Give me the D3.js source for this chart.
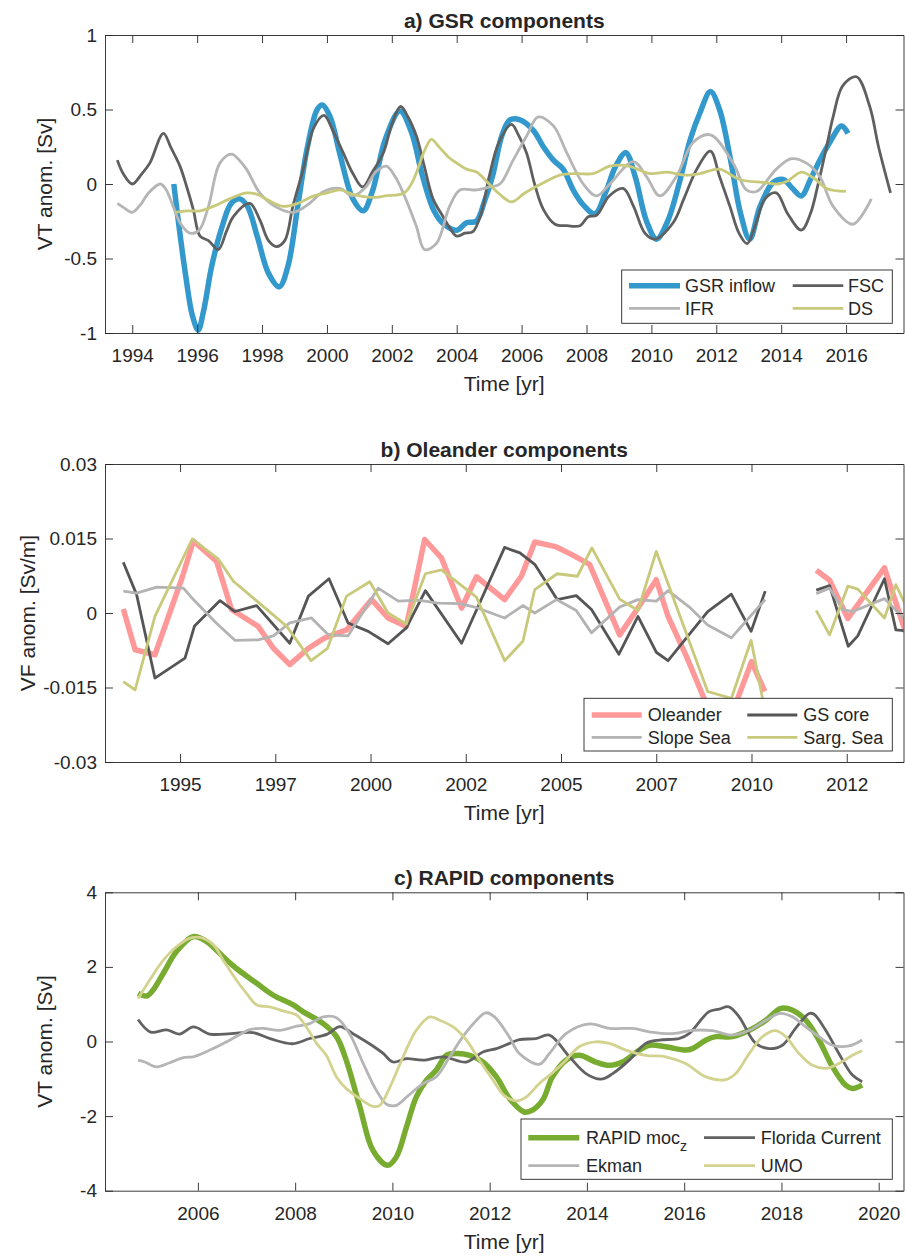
<!DOCTYPE html>
<html><head><meta charset="utf-8">
<script src="https://cdn.jsdelivr.net/npm/d3@7"></script>
<style>
body{margin:0;background:#fff;}
svg{display:block;}
text{font-family:"Liberation Sans",Arial,Helvetica,sans-serif;fill:#262626;}
</style></head><body>
<svg id="chart" width="905" height="1256"></svg>
<script>
// ---------------- Panel a: GSR components ----------------
const ticksA = [1994,1996,1998,2000,2002,2004,2006,2008,2010,2012,2014,2016];
const yTicksA = [-1,-0.5,0,0.5,1];
const yTickLabelsA = ["-1","-0.5","0","0.5","1"];
const gsrInflow = [[1995.28,0.00],[1995.45,-0.30],[1995.65,-0.62],[1995.85,-0.88],[1996.03,-0.98],[1996.2,-0.85],[1996.45,-0.55],[1996.75,-0.30],[1997.05,-0.13],[1997.31,-0.10],[1997.55,-0.15],[1997.85,-0.35],[1998.2,-0.60],[1998.53,-0.69],[1998.8,-0.55],[1999.1,-0.15],[1999.4,0.25],[1999.7,0.50],[1999.86,0.53],[2000.1,0.45],[2000.4,0.20],[2000.8,-0.10],[2001.12,-0.18],[2001.4,-0.05],[2001.8,0.30],[2002.25,0.49],[2002.6,0.35],[2002.95,0.05],[2003.3,-0.18],[2003.6,-0.27],[2004.0,-0.31],[2004.3,-0.26],[2004.6,-0.25],[2004.85,-0.12],[2005.1,0.05],[2005.4,0.33],[2005.64,0.43],[2005.95,0.43],[2006.36,0.36],[2006.67,0.25],[2006.98,0.16],[2007.28,0.10],[2007.59,-0.04],[2007.9,-0.14],[2008.26,-0.20],[2008.6,-0.05],[2008.9,0.12],[2009.21,0.21],[2009.5,0.05],[2009.85,-0.25],[2010.16,-0.37],[2010.5,-0.25],[2010.85,0.00],[2011.2,0.30],[2011.5,0.48],[2011.82,0.62],[2012.1,0.50],[2012.45,0.15],[2012.75,-0.20],[2013.03,-0.37],[2013.35,-0.15],[2013.75,0.01],[2014.06,0.03],[2014.35,-0.03],[2014.62,-0.08],[2014.9,0.03],[2015.19,0.16],[2015.5,0.28],[2015.86,0.39],[2016.06,0.34]];
const fsc = [[1993.54,0.16],[1993.72,0.07],[1994.0,0.00],[1994.3,0.07],[1994.54,0.14],[1994.96,0.34],[1995.2,0.24],[1995.47,0.12],[1995.68,-0.02],[1995.88,-0.17],[1996.09,-0.35],[1996.35,-0.38],[1996.65,-0.44],[1996.9,-0.32],[1997.11,-0.22],[1997.62,-0.13],[1997.93,-0.24],[1998.2,-0.38],[1998.44,-0.42],[1998.7,-0.38],[1998.95,-0.15],[1999.27,0.10],[1999.6,0.38],[1999.91,0.46],[2000.2,0.35],[2000.5,0.21],[2000.8,0.07],[2001.1,-0.02],[2001.4,0.08],[2001.74,0.21],[2002.0,0.40],[2002.27,0.52],[2002.5,0.45],[2002.76,0.32],[2003.0,0.12],[2003.27,-0.10],[2003.58,-0.22],[2003.8,-0.30],[2004.0,-0.35],[2004.25,-0.33],[2004.5,-0.32],[2004.75,-0.20],[2005.0,0.05],[2005.3,0.28],[2005.69,0.40],[2005.9,0.33],[2006.15,0.21],[2006.4,0.00],[2006.67,-0.17],[2007.03,-0.27],[2007.4,-0.28],[2007.8,-0.28],[2008.05,-0.22],[2008.31,-0.21],[2008.7,-0.08],[2009.13,-0.03],[2009.45,-0.15],[2009.8,-0.33],[2010.1,-0.37],[2010.67,-0.26],[2011.0,-0.10],[2011.4,0.10],[2011.82,0.22],[2012.1,0.05],[2012.42,-0.15],[2012.7,-0.33],[2012.95,-0.40],[2013.2,-0.28],[2013.5,-0.10],[2013.85,-0.06],[2014.2,-0.20],[2014.62,-0.31],[2014.9,-0.20],[2015.15,0.01],[2015.4,0.25],[2015.6,0.45],[2015.9,0.66],[2016.32,0.72],[2016.73,0.52],[2017.0,0.25],[2017.37,-0.06]];
const ifr = [[1993.54,-0.13],[1993.75,-0.16],[1994.0,-0.19],[1994.25,-0.14],[1994.5,-0.06],[1994.87,0.00],[1995.05,-0.04],[1995.26,-0.15],[1995.5,-0.27],[1995.78,-0.33],[1996.06,-0.31],[1996.35,-0.15],[1996.7,0.14],[1997.06,0.20],[1997.3,0.16],[1997.52,0.10],[1997.93,-0.06],[1998.4,-0.15],[1998.96,-0.19],[1999.4,-0.14],[1999.9,-0.05],[2000.4,-0.03],[2000.8,-0.08],[2001.2,-0.02],[2001.5,0.08],[2001.83,0.12],[2002.1,0.05],[2002.35,-0.06],[2002.75,-0.28],[2003.01,-0.44],[2003.37,-0.40],[2003.78,-0.15],[2004.1,-0.04],[2004.61,-0.04],[2005.02,-0.02],[2005.33,0.00],[2005.74,0.16],[2006.15,0.32],[2006.51,0.45],[2006.98,0.39],[2007.39,0.21],[2007.9,0.00],[2008.31,-0.08],[2008.72,0.00],[2009.44,0.15],[2009.85,0.05],[2010.26,-0.08],[2010.77,0.05],[2011.29,0.28],[2011.82,0.33],[2012.52,0.14],[2012.93,-0.04],[2013.24,-0.05],[2013.85,0.10],[2014.32,0.17],[2014.78,0.14],[2015.19,0.05],[2015.6,-0.15],[2016.21,-0.27],[2016.78,-0.10]];
const ds = [[1995.32,-0.19],[1995.7,-0.18],[1996.09,-0.18],[1996.5,-0.15],[1997.0,-0.10],[1997.52,-0.06],[1997.85,-0.07],[1998.2,-0.11],[1998.65,-0.15],[1999.1,-0.13],[1999.6,-0.08],[2000.0,-0.06],[2000.4,-0.04],[2000.81,-0.07],[2001.4,-0.09],[2001.8,-0.08],[2002.38,-0.06],[2002.6,0.00],[2002.8,0.10],[2003.0,0.22],[2003.22,0.30],[2003.45,0.25],[2003.75,0.18],[2004.0,0.14],[2004.3,0.10],[2004.61,0.08],[2005.0,0.00],[2005.33,-0.07],[2005.69,-0.12],[2006.1,-0.06],[2006.6,0.00],[2007.18,0.06],[2007.7,0.07],[2008.21,0.07],[2008.72,0.12],[2009.3,0.12],[2009.95,0.07],[2010.5,0.08],[2011.0,0.06],[2011.5,0.07],[2012.1,0.10],[2012.72,0.03],[2013.45,0.01],[2013.9,0.00],[2014.2,0.02],[2014.62,0.08],[2015.0,0.04],[2015.4,-0.03],[2016.0,-0.05]];

// ---------------- Panel b: Oleander components ----------------
const ticksB = [1995,1997.5,2000,2002.5,2005,2007.5,2010,2012.5];
const tickLabelsB = ["1995","1997","2000","2002","2005","2007","2010","2012"];
const yTicksB = [-0.03,-0.015,0,0.015,0.03];
const yTickLabelsB = ["-0.03","-0.015","0","0.015","0.03"];
const oleander = [[1993.51,0.0008],[1993.82,-0.0074],[1994.34,-0.0084],[1995.05,0.0070],[1995.35,0.0145],[1995.96,0.0104],[1996.35,0.0007],[1997.05,-0.0027],[1997.45,-0.0071],[1997.88,-0.0104],[1998.37,-0.0071],[1998.80,-0.0050],[1999.37,-0.0034],[2000.03,0.0027],[2000.46,-0.0010],[2000.94,-0.0027],[2001.42,0.0148],[2001.86,0.0111],[2002.39,0.0010],[2002.78,0.0073],[2003.52,0.0027],[2003.96,0.0074],[2004.31,0.0143],[2004.88,0.0133],[2005.27,0.0118],[2005.75,0.0098],[2006.54,-0.0044],[2007.02,0.0010],[2007.50,0.0067],[2007.81,-0.0007],[2008.33,-0.0094],[2008.77,-0.0175],[2009.1,-0.0215],[2009.55,-0.0190],[2010.0,-0.0098],[2010.35,-0.0158],[2011.0,null],[2011.70,0.0086],[2012.05,0.0066],[2012.53,-0.0011],[2013.49,0.0091],[2014.05,-0.0040]];
const gsCore = [[1993.51,0.0102],[1993.86,0.0037],[1994.34,-0.0131],[1995.13,-0.0091],[1995.38,-0.0026],[1996.05,0.0025],[1996.44,0.0003],[1997.01,0.0015],[1997.88,-0.0061],[1998.37,0.0034],[1998.91,0.0069],[1999.41,-0.0020],[1999.94,-0.0037],[2000.46,-0.0062],[2000.94,-0.0030],[2001.44,0.0045],[2002.39,-0.0061],[2003.52,0.0132],[2003.92,0.0121],[2004.31,0.0098],[2004.90,0.0027],[2005.40,0.0035],[2005.80,0.0007],[2006.52,-0.0083],[2007.02,-0.0007],[2007.50,-0.0079],[2007.81,-0.0096],[2008.85,0.0003],[2009.47,0.0038],[2009.99,-0.0037],[2010.36,0.0044],[2011.0,null],[2011.70,0.0046],[2012.05,0.0055],[2012.54,-0.0067],[2012.79,-0.0046],[2013.49,0.0069],[2013.79,-0.0034],[2014.05,-0.0036]];
const slopeSea = [[1993.51,0.0044],[1993.86,0.0040],[1994.39,0.0052],[1995.09,0.0050],[1995.35,0.0027],[1995.95,-0.0020],[1996.44,-0.0055],[1997.05,-0.0054],[1997.45,-0.0046],[1997.88,-0.0020],[1998.45,-0.0010],[1998.89,-0.0044],[1999.41,-0.0046],[2000.20,0.0050],[2000.73,0.0024],[2001.25,0.0026],[2001.77,0.0020],[2002.34,0.0019],[2002.74,0.0012],[2003.52,-0.0010],[2004.0,0.0015],[2004.31,0.0000],[2004.88,0.0027],[2005.40,0.0005],[2005.80,-0.0040],[2006.54,0.0012],[2007.02,0.0027],[2007.50,0.0024],[2007.81,0.0045],[2008.37,0.0012],[2008.85,-0.0024],[2009.47,-0.0050],[2010.36,0.0027],[2011.0,null],[2011.70,0.0039],[2012.05,0.0050],[2012.40,0.0007],[2012.66,0.0003],[2013.49,0.0029],[2014.05,-0.0015]];
const sargSea = [[1993.51,-0.0138],[1993.82,-0.0155],[1994.34,-0.0007],[1995.32,0.0149],[1996.0,0.0109],[1996.40,0.0064],[1997.80,-0.0027],[1998.44,-0.0096],[1998.87,-0.0071],[1999.37,0.0034],[1999.98,0.0063],[2000.46,0.0000],[2000.94,-0.0022],[2001.44,0.0079],[2001.86,0.0087],[2002.78,0.0032],[2003.52,-0.0096],[2004.0,-0.0057],[2004.31,0.0047],[2004.90,0.0079],[2005.43,0.0074],[2005.81,0.0131],[2006.54,0.0028],[2007.02,0.0005],[2007.50,0.0124],[2008.85,-0.0158],[2009.47,-0.0172],[2009.99,-0.0055],[2010.36,-0.0200],[2011.0,null],[2011.70,0.0005],[2012.05,-0.0044],[2012.53,0.0054],[2012.79,0.0048],[2013.49,-0.0010],[2013.79,0.0057],[2014.05,0.0015]];

// ---------------- Panel c: RAPID components ----------------
const ticksC = [2006,2008,2010,2012,2014,2016,2018,2020];
const yTicksC = [-4,-2,0,2,4];
const yTickLabelsC = ["-4","-2","0","2","4"];
const rapidMoc = [[2004.77,1.29],[2004.95,1.22],[2005.08,1.38],[2005.29,1.83],[2005.56,2.41],[2005.90,2.81],[2006.18,2.68],[2006.52,2.27],[2006.8,1.95],[2007.21,1.56],[2007.55,1.24],[2007.96,0.98],[2008.16,0.80],[2008.58,0.48],[2008.85,0.13],[2009.05,-0.50],[2009.33,-1.75],[2009.60,-2.92],[2009.90,-3.32],[2010.08,-3.10],[2010.29,-2.29],[2010.49,-1.49],[2010.70,-1.04],[2010.90,-0.77],[2011.11,-0.37],[2011.32,-0.32],[2011.59,-0.37],[2011.86,-0.55],[2012.14,-0.95],[2012.42,-1.55],[2012.71,-1.89],[2012.88,-1.84],[2013.09,-1.57],[2013.29,-0.95],[2013.57,-0.50],[2013.84,-0.37],[2014.18,-0.55],[2014.46,-0.64],[2014.73,-0.55],[2015.08,-0.23],[2015.28,-0.10],[2015.62,-0.14],[2016.03,-0.23],[2016.17,-0.19],[2016.45,0.04],[2016.65,0.13],[2016.99,0.13],[2017.34,0.30],[2017.68,0.57],[2017.99,0.89],[2018.23,0.84],[2018.50,0.57],[2018.77,0.04],[2019.05,-0.68],[2019.32,-1.17],[2019.46,-1.26],[2019.66,-1.17]];
const floridaCurrent = [[2004.77,0.59],[2005.03,0.25],[2005.36,0.31],[2005.62,0.20],[2005.91,0.39],[2006.24,0.20],[2006.68,0.21],[2007.13,0.24],[2007.5,0.07],[2007.95,-0.06],[2008.3,0.08],[2008.65,0.19],[2008.92,0.40],[2009.19,0.21],[2009.60,-0.12],[2009.81,-0.32],[2010.01,-0.55],[2010.29,-0.46],[2010.63,-0.50],[2011.04,-0.41],[2011.52,-0.55],[2011.86,-0.28],[2012.14,-0.19],[2012.41,-0.05],[2012.61,0.05],[2012.95,0.08],[2013.23,0.17],[2013.64,-0.41],[2013.98,-0.86],[2014.29,-1.01],[2014.53,-0.86],[2014.87,-0.50],[2015.21,-0.05],[2015.49,0.04],[2015.90,0.08],[2016.10,0.21],[2016.51,0.80],[2016.72,0.87],[2016.92,0.93],[2017.13,0.66],[2017.47,-0.05],[2017.75,-0.19],[2018.02,-0.10],[2018.29,0.35],[2018.57,0.75],[2018.67,0.73],[2018.91,0.30],[2019.18,-0.32],[2019.46,-0.90],[2019.66,-1.08]];
const ekman = [[2004.77,-0.50],[2004.91,-0.55],[2005.15,-0.68],[2005.42,-0.57],[2005.70,-0.43],[2005.90,-0.41],[2006.25,-0.23],[2006.66,0.04],[2007.07,0.32],[2007.34,0.35],[2007.68,0.30],[2008.03,0.41],[2008.30,0.48],[2008.58,0.66],[2008.85,0.64],[2009.12,0.21],[2009.40,-0.59],[2009.67,-1.31],[2009.88,-1.68],[2010.08,-1.71],[2010.29,-1.49],[2010.63,-1.13],[2010.90,-0.95],[2011.18,-0.41],[2011.45,0.13],[2011.73,0.57],[2011.92,0.77],[2012.10,0.66],[2012.40,0.13],[2012.61,-0.32],[2013.02,-0.61],[2013.23,-0.32],[2013.57,0.21],[2014.05,0.47],[2014.46,0.35],[2014.94,0.35],[2015.28,0.26],[2015.76,0.21],[2016.17,0.30],[2016.58,0.29],[2016.99,0.17],[2017.34,0.30],[2017.68,0.57],[2017.95,0.75],[2018.23,0.66],[2018.50,0.39],[2018.77,0.13],[2019.05,-0.10],[2019.39,-0.12],[2019.66,0.04]];
const umo = [[2004.77,1.15],[2005.01,1.65],[2005.29,2.18],[2005.56,2.54],[2005.84,2.77],[2006.04,2.79],[2006.32,2.59],[2006.52,2.18],[2006.79,1.65],[2007.0,1.29],[2007.21,0.98],[2007.48,0.93],[2007.75,0.82],[2008.03,0.71],[2008.23,0.39],[2008.44,-0.05],[2008.64,-0.37],[2008.85,-0.95],[2009.05,-1.26],[2009.33,-1.53],[2009.60,-1.74],[2009.74,-1.71],[2009.95,-1.22],[2010.22,-0.41],[2010.49,0.30],[2010.77,0.66],[2010.97,0.57],[2011.25,0.39],[2011.52,0.04],[2011.79,-0.50],[2012.07,-1.04],[2012.30,-1.45],[2012.54,-1.59],[2012.75,-1.49],[2013.02,-1.13],[2013.29,-0.84],[2013.57,-0.50],[2013.84,-0.14],[2014.18,-0.01],[2014.46,-0.05],[2014.80,-0.23],[2015.21,-0.37],[2015.62,-0.41],[2016.03,-0.59],[2016.45,-0.95],[2016.86,-1.02],[2017.06,-0.86],[2017.34,-0.32],[2017.61,0.13],[2017.88,0.29],[2018.09,0.13],[2018.36,-0.32],[2018.64,-0.64],[2018.91,-0.72],[2019.18,-0.59],[2019.46,-0.37],[2019.66,-0.25]];

// ---------------- Layout & style ----------------
const svg = d3.select("#chart");
const AX = "#262626";
const L = 105, R = 903.5;

const panels = [
  {id:"a", title:"a) GSR components", ylabel:"VT anom. [Sv]", ylabelX:52,
   top:35, bottom:333, xDomain:[1993.16,2017.77], yDomain:[-1,1],
   xTicks:ticksA, xFmt:(d)=>String(d), yTicks:yTicksA, yLabels:yTickLabelsA, smooth:true,
   series:[
     {name:"GSR inflow", data:gsrInflow, color:"#3399cc", w:5.5},
     {name:"FSC", data:fsc, color:"#5f5f5f", w:2.8},
     {name:"IFR", data:ifr, color:"#b5b5b5", w:2.8},
     {name:"DS", data:ds, color:"#c9c97c", w:2.8}],
   legend:{x:621.7, y:270, w:270.6, h:53.3, rows:[285.7,308.3], cols:[[629,680,685],[792.7,843.3,848]]}},
  {id:"b", title:"b) Oleander components", ylabel:"VF anom. [Sv/m]", ylabelX:35,
   top:464, bottom:762, xDomain:[1993.03,2013.99], yDomain:[-0.03,0.03],
   xTicks:ticksB, xFmt:(d,i)=>tickLabelsB[i], yTicks:yTicksB, yLabels:yTickLabelsB, smooth:false,
   series:[
     {name:"Oleander", data:oleander, color:"#ff9999", w:5.5},
     {name:"GS core", data:gsCore, color:"#555555", w:2.8},
     {name:"Slope Sea", data:slopeSea, color:"#b3b3b3", w:2.8},
     {name:"Sarg. Sea", data:sargSea, color:"#c9c97c", w:2.8}],
   legend:{x:584, y:698.3, w:308.3, h:52.7, rows:[715,737.3], cols:[[591.7,641.7,647.7],[747.3,797.3,803.3]]}},
  {id:"c", title:"c) RAPID components", ylabel:"VT anom. [Sv]", ylabelX:52,
   top:892.3, bottom:1190.7, xDomain:[2004.09,2020.51], yDomain:[-4,4],
   xTicks:ticksC, xFmt:(d)=>String(d), yTicks:yTicksC, yLabels:yTickLabelsC, smooth:true,
   series:[
     {name:"RAPID moc", sub:"z", data:rapidMoc, color:"#77ac30", w:5.5},
     {name:"Florida Current", data:floridaCurrent, color:"#626262", w:2.8},
     {name:"Ekman", data:ekman, color:"#b5b5b5", w:2.8},
     {name:"UMO", data:umo, color:"#d3d38f", w:2.8}],
   legend:{x:521, y:1119, w:371.3, h:60.3, rows:[1137.7,1165.7], cols:[[528.3,579.3,586],[704,755,760.7]]}}
];

panels.forEach(p => {
  const g = svg.append("g").attr("class","panel-"+p.id);
  const x = d3.scaleLinear().domain(p.xDomain).range([L, R]);
  const y = d3.scaleLinear().domain(p.yDomain).range([p.bottom, p.top]);

  g.append("clipPath").attr("id","clip-"+p.id).append("rect")
    .attr("x", L).attr("y", p.top).attr("width", R-L).attr("height", p.bottom-p.top);

  const line = d3.line()
    .defined(d => d[1] !== null)
    .x(d => x(d[0])).y(d => y(d[1]))
    .curve(p.smooth ? d3.curveCatmullRom.alpha(0.5) : d3.curveLinear);

  const lines = g.append("g").attr("clip-path","url(#clip-"+p.id+")");
  p.series.forEach(s => {
    lines.append("path").datum(s.data).attr("d", line)
      .attr("fill","none").attr("stroke", s.color).attr("stroke-width", s.w)
      .attr("stroke-linejoin","round").attr("stroke-linecap","butt");
  });

  const T = 8;
  const styleAxis = sel => {
    sel.selectAll(".domain").attr("stroke", AX).attr("stroke-width", 0.9);
    sel.selectAll(".tick line").attr("stroke", AX).attr("stroke-width", 0.9);
    sel.selectAll(".tick text").attr("fill", AX).style("font-size","19px")
       .style("font-family",'"Liberation Sans",Arial,Helvetica,sans-serif');
  };
  g.append("g").attr("transform",`translate(0,${p.bottom})`)
    .call(d3.axisBottom(x).tickValues(p.xTicks).tickFormat(p.xFmt).tickSizeInner(-T).tickSizeOuter(0).tickPadding(16))
    .call(styleAxis);
  g.append("g").attr("transform",`translate(0,${p.top})`)
    .call(d3.axisTop(x).tickValues(p.xTicks).tickFormat("").tickSizeInner(-T).tickSizeOuter(0))
    .call(styleAxis);
  g.append("g").attr("transform",`translate(${L},0)`)
    .call(d3.axisLeft(y).tickValues(p.yTicks).tickFormat((d,i)=>p.yLabels[i]).tickSizeInner(-T).tickSizeOuter(0).tickPadding(8))
    .call(styleAxis);
  g.append("g").attr("transform",`translate(${R},0)`)
    .call(d3.axisRight(y).tickValues(p.yTicks).tickFormat("").tickSizeInner(-T).tickSizeOuter(0))
    .call(styleAxis);

  // Title & labels
  const cx = (L + R) / 2;
  g.append("text").attr("x", cx).attr("y", p.top - 7).attr("text-anchor","middle")
    .style("font-size","21px").style("font-weight","bold").attr("fill","#000").text(p.title);
  g.append("text").attr("x", cx).attr("y", p.bottom + 58).attr("text-anchor","middle")
    .style("font-size","21px").text("Time [yr]");
  g.append("text").attr("transform",`translate(${p.ylabelX},${(p.top+p.bottom)/2}) rotate(-90)`)
    .attr("text-anchor","middle").style("font-size","21px").text(p.ylabel);

  // Legend
  const lg = p.legend;
  const leg = g.append("g");
  leg.append("rect").attr("x", lg.x).attr("y", lg.y).attr("width", lg.w).attr("height", lg.h)
    .attr("fill","#fff").attr("stroke", AX).attr("stroke-width", 0.9);
  p.series.forEach((s, i) => {
    const row = lg.rows[Math.floor(i/2)], col = lg.cols[i%2];
    leg.append("line").attr("x1", col[0]).attr("x2", col[1]).attr("y1", row).attr("y2", row)
      .attr("stroke", s.color).attr("stroke-width", s.w);
    const t = leg.append("text").attr("x", col[2]).attr("y", row).attr("dy","0.36em")
      .style("font-size","18px").attr("fill","#000");
    t.append("tspan").text(s.name);
    if (s.sub) t.append("tspan").attr("dy", 7).style("font-size","14px").text(s.sub);
  });
});
</script></body></html>
